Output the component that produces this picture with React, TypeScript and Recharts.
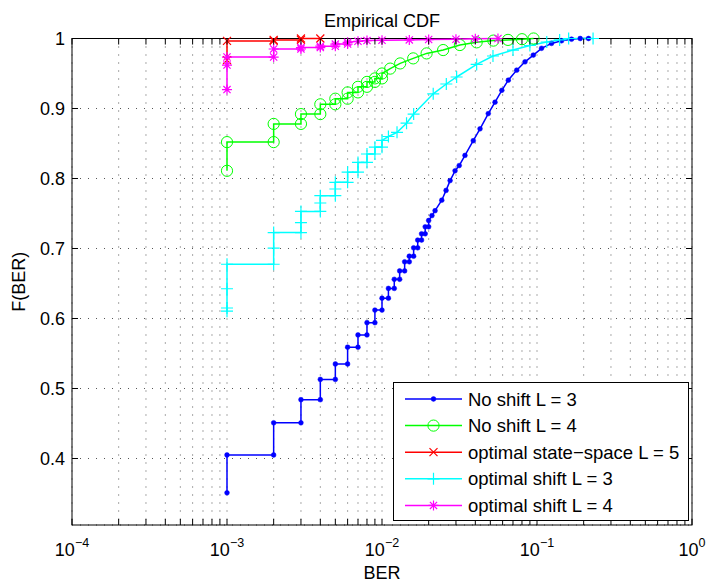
import React from 'react';
import { LineChart, Line, XAxis, YAxis, CartesianGrid, Legend, Customized } from 'recharts';

const W = 707;
const H = 583;
const PLOT = { left: 72, right: 692, top: 38.5, bottom: 525 };
const FONT = '"Liberation Sans", Arial, Helvetica, sans-serif';

// axis ticks
const X_DECADES = [1e-4, 1e-3, 1e-2, 1e-1, 1];
const X_EXPONENTS = ['\u22124', '\u22123', '\u22122', '\u22121', '0'];
const X_MULTIPLIERS = [1, 2, 3, 4, 5, 6, 7, 8, 9];
const X_TICKS = X_DECADES.slice(0, -1).flatMap(d => X_MULTIPLIERS.map(m => m * d)).concat([1]);
const Y_TICKS = [0.4, 0.5, 0.6, 0.7, 0.8, 0.9, 1];
const Y_LABELS = ['0.4', '0.5', '0.6', '0.7', '0.8', '0.9', '1'];

// stairs vertices (BER, F(BER))
const noShift3Ber = [
  0.001, 0.001, 0.002, 0.002, 0.003, 0.003, 0.004, 0.004, 0.005, 0.005,
  0.006, 0.006, 0.007, 0.007, 0.008, 0.008, 0.009, 0.009, 0.010, 0.010,
  0.011, 0.011, 0.012, 0.012, 0.013, 0.013, 0.014, 0.014, 0.015, 0.015,
  0.016, 0.016, 0.017, 0.017, 0.018, 0.018, 0.019, 0.019, 0.020, 0.020,
  0.021, 0.022, 0.0243, 0.0259, 0.0275, 0.0296, 0.0315, 0.0343, 0.0388, 0.0429,
  0.0485, 0.0536, 0.0593, 0.0653, 0.074, 0.0837, 0.0947, 0.107, 0.124, 0.144,
  0.167, 0.19, 0.215,
];
const noShift3Cdf = [
  0.351, 0.405, 0.405, 0.451, 0.451, 0.484, 0.484, 0.513, 0.513, 0.535,
  0.535, 0.559, 0.559, 0.5765, 0.5765, 0.594, 0.594, 0.612, 0.612, 0.629,
  0.629, 0.643, 0.643, 0.656, 0.656, 0.668, 0.668, 0.681, 0.681, 0.689,
  0.689, 0.701, 0.701, 0.712, 0.712, 0.721, 0.721, 0.731, 0.731, 0.740,
  0.747, 0.754, 0.769, 0.783, 0.797, 0.811, 0.8185, 0.833, 0.854, 0.871,
  0.8927, 0.909, 0.926, 0.9405, 0.9548, 0.9667, 0.9763, 0.986, 0.993, 0.9968,
  0.999, 1.0, 1.0,
];

const noShift4Ber = [
  0.001, 0.001, 0.002, 0.002, 0.003, 0.003, 0.004, 0.004, 0.005, 0.005,
  0.006, 0.006, 0.007, 0.007, 0.008, 0.008, 0.009, 0.009, 0.010, 0.010,
  0.0113, 0.0131, 0.0159, 0.0194, 0.0248, 0.0318, 0.0408, 0.0523, 0.065, 0.08, 0.095,
];
const noShift4Cdf = [
  0.811, 0.852, 0.852, 0.878, 0.878, 0.892, 0.892, 0.906, 0.906, 0.914,
  0.914, 0.923, 0.923, 0.931, 0.931, 0.938, 0.938, 0.943, 0.943, 0.950,
  0.957, 0.9644, 0.9716, 0.9787, 0.9835, 0.9907, 0.9945, 0.997, 0.998, 0.999, 1.0,
];

const stateSpace5Ber = [0.001, 0.001, 0.002, 0.002, 0.003, 0.003, 0.004];
const stateSpace5Cdf = [0.969, 0.9966, 0.9966, 0.998, 0.998, 1.0, 1.0];

const optShift3Ber = [
  0.001, 0.001, 0.001, 0.001, 0.002, 0.002, 0.002, 0.003, 0.003, 0.003,
  0.004, 0.004, 0.004, 0.005, 0.005, 0.005, 0.006, 0.006, 0.007, 0.007,
  0.008, 0.008, 0.009, 0.009, 0.010, 0.010,
  0.011, 0.0125, 0.0144, 0.016, 0.0214, 0.026, 0.0303, 0.0408, 0.052, 0.07,
  0.09, 0.1156, 0.14, 0.16, 0.23,
];
const optShift3Cdf = [
  0.6105, 0.615, 0.6425, 0.6775, 0.6775, 0.7005, 0.7228, 0.7228, 0.737, 0.753,
  0.753, 0.765, 0.7755, 0.7755, 0.785, 0.7945, 0.7945, 0.809, 0.809, 0.823,
  0.823, 0.835, 0.835, 0.8448, 0.8448, 0.8544,
  0.860, 0.866, 0.879, 0.892, 0.921, 0.935, 0.945, 0.963, 0.975, 0.9835,
  0.990, 0.995, 0.998, 1.0, 1.0,
];

const optShift4Ber = [
  0.001, 0.001, 0.001, 0.002, 0.002, 0.003, 0.003, 0.004, 0.004, 0.005,
  0.005, 0.006, 0.006, 0.007, 0.008, 0.010, 0.015, 0.02, 0.03, 0.04, 0.056,
];
const optShift4Cdf = [
  0.927, 0.962, 0.9735, 0.9735, 0.985, 0.985, 0.987, 0.987, 0.989, 0.989,
  0.992, 0.992, 0.9945, 0.996, 0.997, 0.9975, 0.998, 0.9985, 0.999, 0.9995, 1.0,
];

type MarkerKind = 'dot' | 'circle' | 'x' | 'plus' | 'star';

const SERIES: { name: string; color: string; marker: MarkerKind; ber: number[]; cdf: number[] }[] = [
  { name: 'No shift L = 3', color: '#0000ff', marker: 'dot', ber: noShift3Ber, cdf: noShift3Cdf },
  { name: 'No shift L = 4', color: '#00ff00', marker: 'circle', ber: noShift4Ber, cdf: noShift4Cdf },
  { name: 'optimal state\u2212space L = 5', color: '#ff0000', marker: 'x', ber: stateSpace5Ber, cdf: stateSpace5Cdf },
  { name: 'optimal shift L = 3', color: '#00ffff', marker: 'plus', ber: optShift3Ber, cdf: optShift3Cdf },
  { name: 'optimal shift L = 4', color: '#ff00ff', marker: 'star', ber: optShift4Ber, cdf: optShift4Cdf },
];

function Marker({ kind, x, y, color }: { kind: MarkerKind; x: number; y: number; color: string }) {
  if (kind === 'dot') return <circle cx={x} cy={y} r={2.4} fill={color} stroke={color} strokeWidth={0.5} />;
  if (kind === 'circle') return <circle cx={x} cy={y} r={5.6} fill="none" stroke={color} strokeWidth={1} />;
  if (kind === 'x') {
    const s = 4;
    return <path d={`M${x - s},${y - s}L${x + s},${y + s}M${x - s},${y + s}L${x + s},${y - s}`} stroke={color} strokeWidth={1.2} fill="none" />;
  }
  if (kind === 'plus') {
    const s = 6;
    return <path d={`M${x - s},${y}H${x + s}M${x},${y - s}V${y + s}`} stroke={color} strokeWidth={1.2} fill="none" />;
  }
  const s = 5;
  const d = 3.6;
  return (
    <path
      d={`M${x - s},${y}H${x + s}M${x},${y - s}V${y + s}M${x - d},${y - d}L${x + d},${y + d}M${x - d},${y + d}L${x + d},${y - d}`}
      stroke={color}
      strokeWidth={1.2}
      fill="none"
    />
  );
}

const renderXTick = (props: any) => {
  const { x, y, payload, index } = props;
  const major = X_DECADES.findIndex(d => Math.abs(d - payload.value) < d * 1e-6);
  return (
    <g key={`xt-${index}`}>
      <line x1={x} x2={x} y1={y} y2={y - 6} stroke="#000" />
      <line x1={x} x2={x} y1={PLOT.top} y2={PLOT.top + 6} stroke="#000" />
      {major >= 0 && (
        <text x={x} y={y + 31} textAnchor="middle" fontSize={18} fontFamily={FONT} fill="#000">
          10
          <tspan dy={-9} fontSize={12.5}>{X_EXPONENTS[major]}</tspan>
        </text>
      )}
    </g>
  );
};

const renderYTick = (props: any) => {
  const { x, y, index } = props;
  return (
    <g key={`yt-${index}`}>
      <line x1={x} x2={x + 6} y1={y} y2={y} stroke="#000" />
      <line x1={PLOT.right} x2={PLOT.right - 6} y1={y} y2={y} stroke="#000" />
      <text x={x - 7} y={y + 6.5} textAnchor="end" fontSize={18} fontFamily={FONT} fill="#000">
        {Y_LABELS[index]}
      </text>
    </g>
  );
};

const Decorations = () => (
  <g>
    <rect
      x={PLOT.left}
      y={PLOT.top}
      width={PLOT.right - PLOT.left}
      height={PLOT.bottom - PLOT.top}
      fill="none"
      stroke="#000"
      strokeWidth={1}
    />
    <text x={(PLOT.left + PLOT.right) / 2} y={27} textAnchor="middle" fontSize={18} fontFamily={FONT} fill="#000">
      Empirical CDF
    </text>
    <text x={(PLOT.left + PLOT.right) / 2} y={579} textAnchor="middle" fontSize={18} fontFamily={FONT} fill="#000">
      BER
    </text>
    <text
      x={25}
      y={(PLOT.top + PLOT.bottom) / 2}
      textAnchor="middle"
      fontSize={18}
      fontFamily={FONT}
      fill="#000"
      transform={`rotate(-90, 25, ${(PLOT.top + PLOT.bottom) / 2})`}
    >
      F(BER)
    </text>
  </g>
);

const LegendBox = () => (
  <svg width={297} height={140} style={{ display: 'block' }}>
    <rect x={0.5} y={0.5} width={295} height={138} fill="#fff" stroke="#000" strokeWidth={1} />
    {SERIES.map((s, i) => {
      const cy = 17 + i * 26.6;
      return (
        <g key={s.name}>
          <line x1={12} x2={69} y1={cy} y2={cy} stroke={s.color} strokeWidth={1.5} />
          <Marker kind={s.marker} x={40.5} y={cy} color={s.color} />
          <text x={75} y={cy + 6.6} fontSize={18.5} fontFamily={FONT} fill="#000">
            {s.name}
          </text>
        </g>
      );
    })}
  </svg>
);

export default function App() {
  const seriesData = SERIES.map(s => s.ber.map((ber, i) => ({ ber, cdf: s.cdf[i] })));

  return (
    <div style={{ position: 'absolute', left: 0, top: 0, width: W, height: H, background: '#fff' }}>
      <LineChart
        width={W}
        height={H}
        margin={{ top: PLOT.top, right: W - PLOT.right, bottom: 18, left: 12 }}
      >
        <CartesianGrid stroke="#555" strokeDasharray="1 7" strokeWidth={1} />
        <XAxis
          dataKey="ber"
          type="number"
          scale="log"
          domain={[1e-4, 1]}
          ticks={X_TICKS}
          interval={0}
          tickLine={false}
          axisLine={false}
          tickSize={0}
          tickMargin={0}
          height={40}
          tick={renderXTick}
        />
        <YAxis
          type="number"
          domain={[0.305, 1]}
          ticks={Y_TICKS}
          interval={0}
          tickLine={false}
          axisLine={false}
          tickSize={0}
          tickMargin={0}
          width={60}
          tick={renderYTick}
        />
        {SERIES.map((s, i) => (
          <Line
            key={s.name}
            data={seriesData[i]}
            dataKey="cdf"
            name={s.name}
            type="linear"
            stroke={s.color}
            strokeWidth={1.5}
            dot={(p: any) => (
              <g key={`${s.name}-${p.index}`}>
                <Marker kind={s.marker} x={p.cx} y={p.cy} color={s.color} />
              </g>
            )}
            activeDot={false}
            isAnimationActive={false}
          />
        ))}
        <Customized component={Decorations} />
        <Legend
          layout="horizontal"
          verticalAlign="middle"
          align="center"
          content={() => <LegendBox />}
          wrapperStyle={{ left: 393, top: 382, width: 297, height: 140 }}
        />
      </LineChart>
    </div>
  );
}
